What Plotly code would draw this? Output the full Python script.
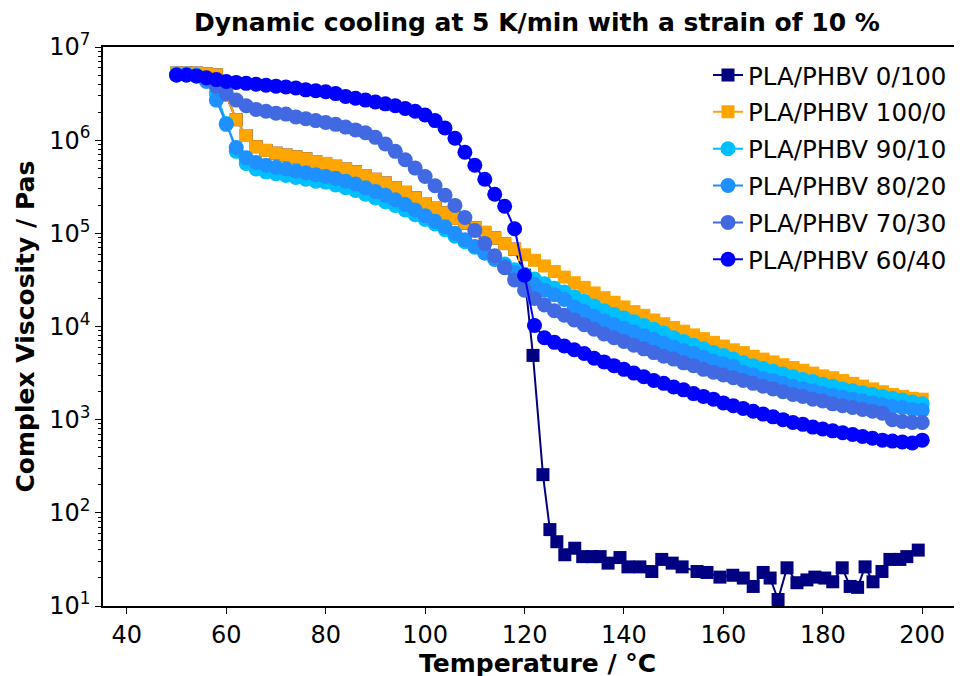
import plotly.graph_objects as go

# Temperature grid (°C) for the blend series
temperature = list(range(50, 201, 2))

# log10 of complex viscosity (Pa·s)
log_eta_100_0 = [6.72, 6.72, 6.72, 6.71, 6.70, 6.48, 6.22, 6.05, 5.93, 5.89,
                 5.86, 5.84, 5.82, 5.80, 5.77, 5.75, 5.72, 5.69, 5.66, 5.62,
                 5.58, 5.54, 5.49, 5.44, 5.38, 5.32, 5.27, 5.22, 5.16, 5.11,
                 5.06, 5.01, 4.95, 4.89, 4.83, 4.77, 4.71, 4.65, 4.59, 4.53,
                 4.47, 4.42, 4.36, 4.31, 4.26, 4.21, 4.16, 4.12, 4.07, 4.03,
                 3.99, 3.95, 3.91, 3.87, 3.83, 3.79, 3.75, 3.72, 3.68, 3.65,
                 3.62, 3.59, 3.56, 3.53, 3.50, 3.47, 3.45, 3.42, 3.39, 3.36,
                 3.33, 3.30, 3.27, 3.25, 3.23, 3.22]
log_eta_90_10 = [6.71, 6.71, 6.70, 6.66, 6.50, 6.18, 5.88, 5.75, 5.69, 5.66,
                 5.64, 5.62, 5.60, 5.58, 5.56, 5.55, 5.52, 5.49, 5.46, 5.42,
                 5.38, 5.34, 5.30, 5.25, 5.20, 5.15, 5.10, 5.04, 4.97, 4.91,
                 4.85, 4.79, 4.73, 4.67, 4.61, 4.56, 4.51, 4.46, 4.41, 4.37,
                 4.32, 4.27, 4.22, 4.17, 4.13, 4.09, 4.05, 4.01, 3.97, 3.93,
                 3.88, 3.84, 3.80, 3.76, 3.72, 3.69, 3.65, 3.61, 3.58, 3.55,
                 3.52, 3.49, 3.46, 3.43, 3.41, 3.38, 3.36, 3.33, 3.31, 3.29,
                 3.27, 3.25, 3.23, 3.21, 3.19, 3.17]
log_eta_80_20 = [6.70, 6.70, 6.69, 6.63, 6.43, 6.17, 5.92, 5.81, 5.76, 5.73,
                 5.71, 5.69, 5.67, 5.65, 5.63, 5.61, 5.59, 5.56, 5.53, 5.49,
                 5.45, 5.41, 5.36, 5.31, 5.25, 5.19, 5.13, 5.07, 5.00, 4.93,
                 4.86, 4.79, 4.72, 4.65, 4.58, 4.51, 4.45, 4.39, 4.34, 4.29,
                 4.21, 4.16, 4.11, 4.06, 4.02, 3.98, 3.94, 3.90, 3.86, 3.82,
                 3.78, 3.74, 3.71, 3.67, 3.63, 3.60, 3.57, 3.51, 3.48, 3.44,
                 3.42, 3.39, 3.36, 3.33, 3.31, 3.28, 3.26, 3.24, 3.22, 3.20,
                 3.18, 3.16, 3.14, 3.13, 3.11, 3.10]
log_eta_70_30 = [6.70, 6.70, 6.69, 6.66, 6.58, 6.50, 6.43, 6.37, 6.33, 6.31,
                 6.29, 6.28, 6.25, 6.23, 6.21, 6.19, 6.17, 6.14, 6.11, 6.08,
                 6.03, 5.96, 5.88, 5.79, 5.70, 5.61, 5.51, 5.41, 5.30, 5.17,
                 5.03, 4.89, 4.76, 4.63, 4.50, 4.39, 4.30, 4.23, 4.17, 4.12,
                 4.07, 4.02, 3.97, 3.92, 3.88, 3.84, 3.80, 3.76, 3.72, 3.68,
                 3.65, 3.61, 3.58, 3.54, 3.51, 3.48, 3.45, 3.42, 3.39, 3.36,
                 3.33, 3.30, 3.27, 3.25, 3.22, 3.20, 3.17, 3.15, 3.13, 3.11,
                 3.09, 3.07, 3.00, 2.98, 2.97, 2.97]
log_eta_60_40 = [6.70, 6.70, 6.69, 6.67, 6.65, 6.63, 6.62, 6.61, 6.60, 6.59,
                 6.58, 6.57, 6.56, 6.54, 6.53, 6.52, 6.50, 6.47, 6.45, 6.43,
                 6.41, 6.39, 6.37, 6.34, 6.31, 6.27, 6.21, 6.13, 6.02, 5.87,
                 5.73, 5.58, 5.42, 5.29, 5.05, 4.55, 4.01, 3.88, 3.83, 3.79,
                 3.75, 3.71, 3.66, 3.62, 3.58, 3.54, 3.50, 3.46, 3.42, 3.39,
                 3.35, 3.32, 3.28, 3.25, 3.22, 3.18, 3.15, 3.12, 3.09, 3.06,
                 3.03, 3.00, 2.97, 2.95, 2.92, 2.90, 2.88, 2.86, 2.84, 2.82,
                 2.80, 2.78, 2.77, 2.76, 2.75, 2.78]

# PLA/PHBV 0/100 has its own temperature readings
temperature_0_100 = [50, 52, 54, 56, 58, 60, 62, 64, 66, 68, 70, 72, 74, 76, 78,
                     80, 82, 84, 86, 88, 90, 92, 94, 96, 98, 100, 102, 104, 106,
                     108, 110, 112, 114, 116, 118, 120,
                     121.7, 123.7, 125.1, 126.5, 128.1, 130.1, 131.7, 133.6,
                     135.2, 136.8, 139.2, 140.8, 143.2, 145.6, 147.6, 149.7,
                     151.7, 154.7, 156.7, 159.3, 161.9, 164.0, 166.0, 168.0,
                     169.4, 171.0, 172.8, 174.8, 176.8, 178.4, 180.4, 182.0,
                     183.9, 185.5, 187.0, 188.5, 190.1, 191.9, 193.5, 195.5,
                     196.9, 199.2]
log_eta_0_100 = [6.72, 6.72, 6.72, 6.71, 6.70, 6.48, 6.22, 6.05, 5.93, 5.89,
                 5.86, 5.84, 5.82, 5.80, 5.77, 5.75, 5.72, 5.69, 5.66, 5.62,
                 5.58, 5.54, 5.49, 5.44, 5.38, 5.32, 5.27, 5.22, 5.16, 5.11,
                 5.06, 5.01, 4.95, 4.89, 4.83, 4.55,
                 3.69, 2.41, 1.82, 1.69, 1.55, 1.62, 1.53, 1.53,
                 1.53, 1.46, 1.52, 1.42, 1.42, 1.37, 1.50, 1.46,
                 1.42, 1.37, 1.36, 1.31, 1.33, 1.30, 1.21, 1.36,
                 1.30, 1.07, 1.41, 1.25, 1.28, 1.31, 1.30, 1.26,
                 1.41, 1.21, 1.20, 1.42, 1.26, 1.37, 1.50, 1.50,
                 1.53, 1.60]

series_names = ["PLA/PHBV 0/100", "PLA/PHBV 100/0", "PLA/PHBV 90/10",
                "PLA/PHBV 80/20", "PLA/PHBV 70/30", "PLA/PHBV 60/40"]
series_colors = ["#000080", "#FFA500", "#00BFFF", "#1E90FF", "#4169E1", "#0000FF"]
series_symbols = ["square", "square", "circle", "circle", "circle", "circle"]

series_x = [temperature_0_100, temperature, temperature, temperature, temperature, temperature]
series_log = [log_eta_0_100, log_eta_100_0, log_eta_90_10, log_eta_80_20,
              log_eta_70_30, log_eta_60_40]

y_tick_exponents = [1, 2, 3, 4, 5, 6, 7]
x_ticks = [40, 60, 80, 100, 120, 140, 160, 180, 200]

fig = go.Figure()
for name, color, sym, xs, logs in zip(series_names, series_colors, series_symbols,
                                      series_x, series_log):
    fig.add_trace(go.Scatter(
        x=xs, y=[10 ** v for v in logs], name=name, mode="lines+markers",
        legendgroup=name,
        line=dict(color=color, width=2),
        marker=dict(symbol=sym, color=color, size=13 if sym == "square" else 15,
                    line=dict(width=0)),
    ))

minor_vals = [k * 10 ** n for n in range(1, 7) for k in range(2, 10)]

# page body has an 8 px margin, so the figure is sized/positioned accordingly
W, H = 954, 668
L, R, T, B = 95, 0, 39, 70
PW, PH = W - L - R, H - T - B

fig.update_layout(
    width=W, height=H,
    margin=dict(l=L, r=R, t=T, b=B, autoexpand=False),
    plot_bgcolor="white", paper_bgcolor="white",
    font=dict(family="DejaVu Sans", color="black"),
    showlegend=True,
    legend=dict(x=(700 - L) / PW, y=0.99, xanchor="left", yanchor="top",
                font=dict(size=24.5, family="DejaVu Sans"),
                bgcolor="rgba(255,255,255,0)", borderwidth=0,
                tracegroupgap=2, itemsizing="trace"),
    xaxis=dict(range=[35.2, 208.0], tickvals=x_ticks,
               ticktext=[str(v) for v in x_ticks],
               showline=True, linecolor="black", linewidth=1.5, mirror=True,
               ticks="outside", ticklen=6, tickwidth=1.2, tickcolor="black",
               showgrid=False, zeroline=False, automargin=False,
               tickfont=dict(size=24, family="DejaVu Sans")),
    yaxis=dict(type="log", range=[1, 7],
               tickvals=[10 ** e for e in y_tick_exponents],
               ticktext=["10<sup>%d</sup>" % e for e in y_tick_exponents],
               showline=True, linecolor="black", linewidth=1.5, mirror=False,
               ticks="outside", ticklen=6, tickwidth=1.2, tickcolor="black",
               showgrid=False, zeroline=False, automargin=False,
               minor=dict(tickvals=minor_vals, ticks="outside", ticklen=3,
                          tickwidth=1, tickcolor="black", showgrid=False),
               tickfont=dict(size=24, family="DejaVu Sans")),
    annotations=[
        dict(text="<b>Dynamic cooling at 5 K/min with a strain of 10 %</b>",
             xref="paper", yref="paper", x=(529 - L) / PW,
             y=(H - B - 14) / PH,
             xanchor="center", yanchor="middle", showarrow=False,
             font=dict(size=25, family="DejaVu Sans")),
        dict(text="<b>Temperature / °C</b>",
             xref="paper", yref="paper", x=(529 - L) / PW,
             y=-(655 - (H - B)) / PH,
             xanchor="center", yanchor="middle", showarrow=False,
             font=dict(size=25, family="DejaVu Sans")),
        dict(text="<b>Complex Viscosity / Pas</b>", textangle=-90,
             xref="paper", yref="paper", x=-(L - 17) / PW, y=0.5,
             xanchor="center", yanchor="middle", showarrow=False,
             font=dict(size=25, family="DejaVu Sans")),
    ],
)

fig.write_html("out.html")
